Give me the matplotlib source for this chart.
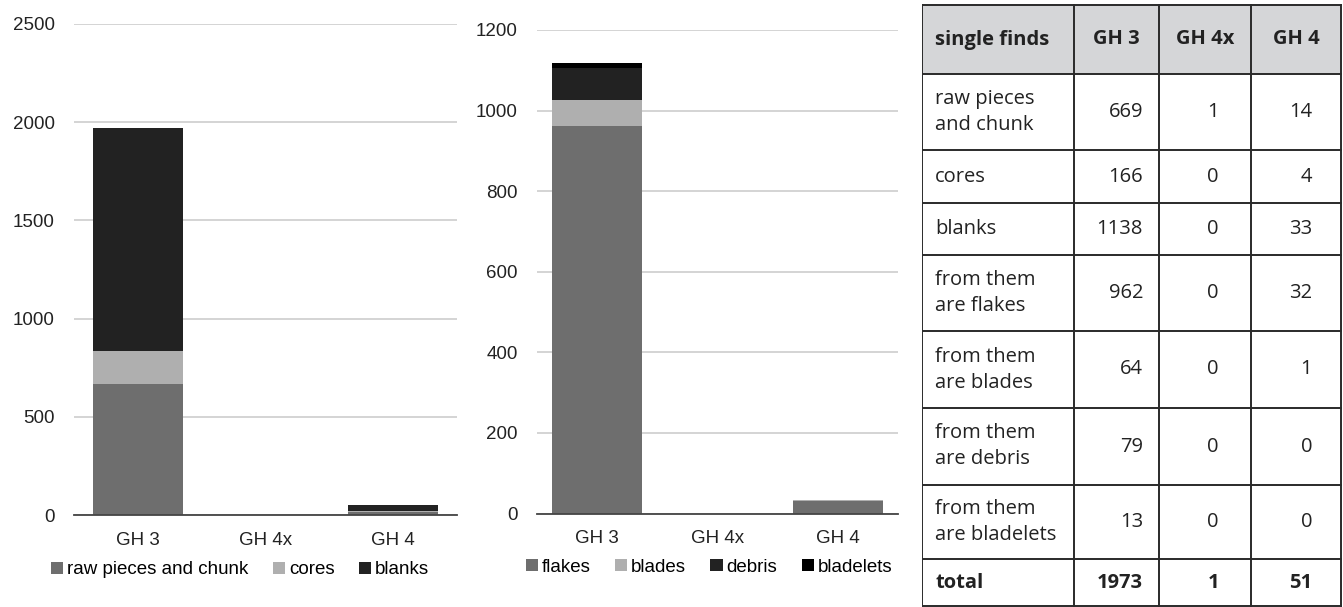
import matplotlib.pyplot as plt
from matplotlib.patches import Rectangle

# ---- data ----
sites = ["GH 3", "GH 4x", "GH 4"]

# left chart: single finds
raw_pieces = [669, 1, 14]
cores = [166, 0, 4]
blanks = [1138, 0, 33]

# right chart: blanks split
flakes = [962, 0, 32]
blades = [64, 0, 1]
debris = [79, 0, 0]
bladelets = [13, 0, 0]

# table
table_header = ["single finds", "GH 3", "GH 4x", "GH 4"]
table_rows = ["raw pieces\nand chunk", "cores", "blanks", "from them\nare flakes",
              "from them\nare blades", "from them\nare debris", "from them\nare bladelets", "total"]
table_gh3 = [669, 166, 1138, 962, 64, 79, 13, 1973]
table_gh4x = [1, 0, 0, 0, 0, 0, 0, 1]
table_gh4 = [14, 4, 33, 32, 1, 0, 0, 51]

col_mid = "#6e6e6e"
col_light = "#afafaf"
col_dark = "#222222"
col_black = "#000000"

W, H = 1343, 607
fig = plt.figure(figsize=(W / 100, H / 100), dpi=100)
plt.rcParams["font.family"] = ["Liberation Sans", "DejaVu Sans"]


def stacked(ax, series, colors, labels, width, ymax, step):
    x = range(len(sites))
    bottom = [0] * len(sites)
    handles = []
    for vals, c, lab in zip(series, colors, labels):
        h = ax.bar(x, vals, width, bottom=bottom, color=c, label=lab, zorder=3)
        handles.append(h)
        bottom = [b + v for b, v in zip(bottom, vals)]
    ax.set_xlim(-0.5, len(sites) - 0.5)
    ax.set_ylim(0, ymax)
    ax.set_yticks(range(0, ymax + 1, step))
    ax.set_xticks(list(x))
    ax.set_xticklabels(sites)
    ax.grid(axis="y", color="#d4d4d4", lw=1.4, zorder=0)
    for s in ["left", "right", "top"]:
        ax.spines[s].set_visible(False)
    ax.spines["bottom"].set_color("#444444")
    ax.spines["bottom"].set_linewidth(1.3)
    ax.spines["bottom"].set_zorder(4)
    ax.tick_params(axis="both", length=0, labelsize=13.5, colors="#222222")
    ax.tick_params(axis="y", pad=14)
    ax.tick_params(axis="x", pad=12)
    return handles


# left chart
ax1 = fig.add_axes([74 / W, 1 - 515 / H, 383 / W, 491 / H])
h1 = stacked(ax1, [raw_pieces, cores, blanks], [col_mid, col_light, col_dark],
             ["raw pieces and chunk", "cores", "blanks"], 0.71, 2500, 500)
fig.legend(handles=h1, loc="center", bbox_to_anchor=(240 / W, 1 - 570 / H), ncol=3,
           frameon=False, fontsize=13.5, handlelength=0.65, handleheight=0.65,
           handletextpad=0.2, columnspacing=1.3, borderaxespad=0)

# right chart
ax2 = fig.add_axes([537 / W, 1 - 513.5 / H, 361 / W, 483.5 / H])
h2 = stacked(ax2, [flakes, blades, debris, bladelets], [col_mid, col_light, col_dark, col_black],
             ["flakes", "blades", "debris", "bladelets"], 0.75, 1200, 200)
fig.legend(handles=h2, loc="center", bbox_to_anchor=(709 / W, 1 - 567 / H), ncol=4,
           frameon=False, fontsize=13.5, handlelength=0.65, handleheight=0.65,
           handletextpad=0.2, columnspacing=1.3, borderaxespad=0)

# table (pixel coordinates inside its own axes)
tx0, tx1 = 922, 1343
axt = fig.add_axes([tx0 / W, 0, (tx1 - tx0) / W, 1])
axt.set_xlim(tx0, tx1)
axt.set_ylim(H, 0)
axt.axis("off")

col_edges = [922, 1074, 1159, 1251, 1341]
row_edges = [5, 74, 150, 203, 255, 331, 408, 485, 559, 606]
num_right = [1143, 1219, 1312]

axt.add_patch(Rectangle((col_edges[0], row_edges[0]), col_edges[-1] - col_edges[0],
                        row_edges[1] - row_edges[0], facecolor="#d5d6d8", edgecolor="none"))
for xe in col_edges:
    axt.plot([xe, xe], [row_edges[0], row_edges[-1]], color="#2a2a2a", lw=1.4)
for ye in row_edges:
    axt.plot([col_edges[0], col_edges[-1]], [ye, ye], color="#2a2a2a", lw=1.4)

tfont = ["Open Sans", "DejaVu Sans"]
ymid0 = (row_edges[0] + row_edges[1]) / 2
axt.text(col_edges[0] + 13, ymid0, table_header[0], ha="left", va="center",
         fontsize=14.5, fontweight="bold", family=tfont, color="#222222")
for j in range(1, 4):
    axt.text((col_edges[j] + col_edges[j + 1]) / 2, ymid0, table_header[j], ha="center",
             va="center", fontsize=14.5, fontweight="bold", family=tfont, color="#222222")

for i, lab in enumerate(table_rows):
    ym = (row_edges[i + 1] + row_edges[i + 2]) / 2
    bold = "bold" if lab == "total" else "normal"
    axt.text(col_edges[0] + 13, ym, lab, ha="left", va="center", fontsize=14.5,
             fontweight=bold, family=tfont, color="#222222", linespacing=1.4)
    for xr, vals in zip(num_right, [table_gh3, table_gh4x, table_gh4]):
        axt.text(xr, ym, str(vals[i]), ha="right", va="center", fontsize=14.5,
                 fontweight=bold, family=tfont, color="#222222")

fig.savefig("out.png", dpi=100)
